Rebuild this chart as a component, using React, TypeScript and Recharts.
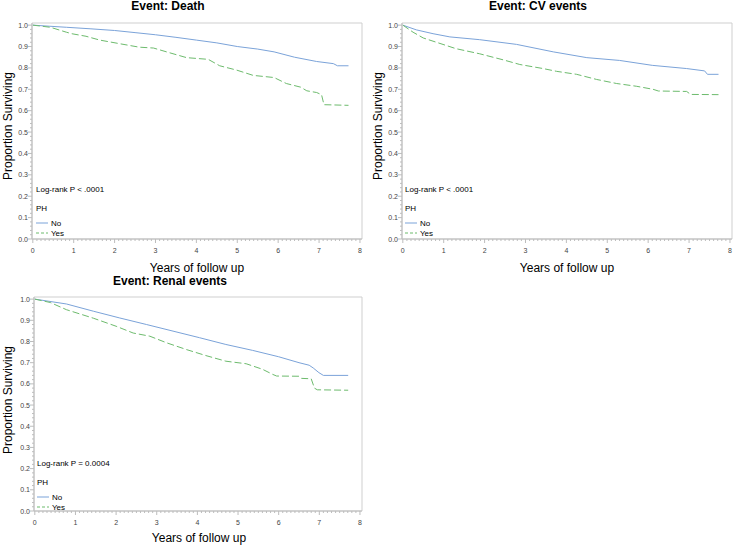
import React from 'react';
import { LineChart, Line, XAxis, YAxis, ReferenceArea } from 'recharts';

// ---------- data ----------
const xMajorTicks = [0, 1, 2, 3, 4, 5, 6, 7, 8];
const yMajorTicks = [0, 0.1, 0.2, 0.3, 0.4, 0.5, 0.6, 0.7, 0.8, 0.9, 1.0];

const deathNoTime = [0, 0.4, 0.82, 1.4, 2.0, 2.5, 3.0, 3.5, 4.0, 4.5, 5.0, 5.5, 5.9, 6.4, 6.94, 7.35, 7.45, 7.72];
const deathNoSurv = [1, 0.995, 0.99, 0.983, 0.975, 0.965, 0.955, 0.943, 0.93, 0.917, 0.9, 0.888, 0.875, 0.85, 0.83, 0.82, 0.81, 0.81];
const deathYesTime = [0, 0.43, 0.82, 0.95, 1.3, 1.64, 2.13, 2.6, 2.95, 3.27, 3.76, 4.29, 4.57, 4.98, 5.39, 5.9, 6.2, 6.55, 6.7, 6.94, 7.06, 7.12, 7.72];
const deathYesSurv = [1, 0.99, 0.967, 0.96, 0.948, 0.93, 0.913, 0.897, 0.893, 0.875, 0.848, 0.84, 0.81, 0.79, 0.765, 0.755, 0.727, 0.71, 0.693, 0.685, 0.675, 0.628, 0.625];

const cvNoTime = [0, 0.33, 0.74, 1.15, 1.88, 2.78, 3.68, 4.5, 5.3, 6.1, 6.94, 7.38, 7.45, 7.72];
const cvNoSurv = [1, 0.978, 0.96, 0.945, 0.932, 0.91, 0.875, 0.848, 0.835, 0.812, 0.797, 0.786, 0.77, 0.77];
const cvYesTime = [0, 0.25, 0.5, 0.82, 1.3, 1.88, 2.45, 2.86, 3.43, 3.76, 4.25, 4.74, 5.23, 5.72, 6.12, 6.25, 6.94, 7.04, 7.72];
const cvYesSurv = [1, 0.967, 0.94, 0.92, 0.89, 0.866, 0.838, 0.816, 0.797, 0.784, 0.77, 0.746, 0.727, 0.714, 0.7, 0.692, 0.69, 0.676, 0.675];

const renalNoTime = [0, 0.78, 1.44, 2.09, 2.75, 3.4, 4.05, 4.7, 5.36, 6.0, 6.5, 6.75, 6.85, 6.99, 7.1, 7.71];
const renalNoSurv = [1, 0.977, 0.943, 0.911, 0.88, 0.849, 0.818, 0.786, 0.758, 0.728, 0.7, 0.688, 0.675, 0.653, 0.64, 0.64];
const renalYesTime = [0, 0.38, 0.78, 1.44, 2.0, 2.42, 2.83, 3.24, 3.73, 4.2, 4.7, 5.2, 5.6, 5.85, 5.95, 6.5, 6.56, 6.8, 6.88, 6.95, 7.71];
const renalYesSurv = [1, 0.984, 0.95, 0.91, 0.872, 0.84, 0.825, 0.794, 0.762, 0.734, 0.707, 0.695, 0.669, 0.645, 0.637, 0.636, 0.626, 0.624, 0.58, 0.572, 0.57];

const panelTitles = ['Event: Death', 'Event: CV events', 'Event: Renal events'];
const pValues = ['Log-rank P < .0001', 'Log-rank P < .0001', 'Log-rank P = 0.0004'];
const groupTitle = 'PH';
const groupNames = ['No', 'Yes'];
const xLabel = 'Years of follow up';
const yLabel = 'Proportion Surviving';

// ---------- styles ----------
const BLUE = '#7ba3d9';
const GREEN = '#6dbb6d';
const FONT = '"Liberation Sans", Arial, sans-serif';
const AXIS = '#bdbdbd';

const xAllTicks: number[] = [];
for (let i = 0; i <= 80; i++) xAllTicks.push(i / 10);
const yAllTicks: number[] = [];
for (let i = 0; i <= 50; i++) yAllTicks.push(i / 50);

const isMajorX = (v: number) => xMajorTicks.some((m) => Math.abs(m - v) < 1e-6);
const isMajorY = (v: number) => yMajorTicks.some((m) => Math.abs(m - v) < 1e-6);

const toPoints = (t: number[], s: number[]) => t.map((v, i) => ({ t: v, s: s[i] }));

const XTick = (props: any) => {
  const { x, y, payload } = props;
  const v = payload.value;
  const major = isMajorX(v);
  return (
    <g>
      <line x1={x} x2={x} y1={y} y2={y + (major ? 4 : 2)} stroke={AXIS} strokeWidth={1} />
      {major && (
        <text x={x} y={y + 14} textAnchor="middle" fontSize={7} fill="#444" fontFamily={FONT}>
          {Math.round(v)}
        </text>
      )}
    </g>
  );
};

const YTick = (props: any) => {
  const { x, y, payload } = props;
  const v = payload.value;
  const major = isMajorY(v);
  return (
    <g>
      <line x1={x} x2={x - (major ? 4 : 2)} y1={y} y2={y} stroke={AXIS} strokeWidth={1} />
      {major && (
        <text x={x - 4} y={y + 2.5} textAnchor="end" fontSize={7} fill="#444" fontFamily={FONT}>
          {v.toFixed(1)}
        </text>
      )}
    </g>
  );
};

type PanelProps = {
  left: number;
  top: number;
  width: number;
  plotH: number;
  no: { t: number; s: number }[];
  yes: { t: number; s: number }[];
};

const Panel = ({ left, top, width, plotH, no, yes }: PanelProps) => (
  <div style={{ position: 'absolute', left, top }}>
    <LineChart
      width={width}
      height={23 + plotH + 36}
      margin={{ top: 23, right: 8, bottom: 6, left: 8 }}
    >
      <XAxis
        type="number"
        dataKey="t"
        domain={[-0.02, 8.05]}
        ticks={xAllTicks}
        interval={0}
        tick={<XTick />}
        tickLine={false}
        tickSize={0}
        tickMargin={0}
        axisLine={{ stroke: AXIS }}
        height={30}
        allowDataOverflow
      />
      <YAxis
        type="number"
        dataKey="s"
        domain={[0, 1.01]}
        ticks={yAllTicks}
        interval={0}
        tick={<YTick />}
        tickLine={false}
        tickSize={0}
        tickMargin={0}
        axisLine={{ stroke: AXIS }}
        width={24}
        allowDataOverflow
      />
      <ReferenceArea x1={-0.02} x2={8.05} y1={0} y2={1.01} fill="none" stroke="#cfcfcf" strokeWidth={1} />
      <Line
        data={no}
        dataKey="s"
        type="linear"
        stroke={BLUE}
        strokeWidth={1}
        dot={false}
        isAnimationActive={false}
      />
      <Line
        data={yes}
        dataKey="s"
        type="linear"
        stroke={GREEN}
        strokeWidth={1}
        strokeDasharray="7 3"
        dot={false}
        isAnimationActive={false}
      />
    </LineChart>
  </div>
);

export default function App() {
  const panels = [
    { left: 0, top: 0, width: 370, plotH: 216, no: toPoints(deathNoTime, deathNoSurv), yes: toPoints(deathYesTime, deathYesSurv) },
    { left: 370, top: 0, width: 370, plotH: 216, no: toPoints(cvNoTime, cvNoSurv), yes: toPoints(cvYesTime, cvYesSurv) },
    { left: 2, top: 274, width: 368, plotH: 214, no: toPoints(renalNoTime, renalNoSurv), yes: toPoints(renalYesTime, renalYesSurv) },
  ];
  const layout = [
    { titleX: 168, titleY: 10, xlX: 197, xlY: 272, ylX: 12, ylY: 126, ax: 36, lr: 192 },
    { titleX: 538, titleY: 10, xlX: 567, xlY: 272, ylX: 382, ylY: 126, ax: 405, lr: 192 },
    { titleX: 170, titleY: 285, xlX: 199, xlY: 542, ylX: 12, ylY: 400, ax: 37, lr: 466 },
  ];
  return (
    <div style={{ position: 'absolute', left: 0, top: 0, width: 733, height: 549, background: '#fff', overflow: 'hidden' }}>
      {panels.map((p, i) => (
        <Panel key={i} {...p} />
      ))}
      <svg width={733} height={549} style={{ position: 'absolute', left: 0, top: 0, pointerEvents: 'none' }}>
        {layout.map((l, i) => (
          <g key={i} fontFamily={FONT}>
            <text x={l.titleX} y={l.titleY} textAnchor="middle" fontSize={12} fontWeight="bold" fill="#000">
              {panelTitles[i]}
            </text>
            <text x={l.xlX} y={l.xlY} textAnchor="middle" fontSize={12} fill="#000">
              {xLabel}
            </text>
            <text
              x={l.ylX}
              y={l.ylY}
              textAnchor="middle"
              fontSize={12}
              fill="#000"
              transform={`rotate(-90 ${l.ylX} ${l.ylY})`}
            >
              {yLabel}
            </text>
            <text x={l.ax} y={l.lr} fontSize={8} fill="#000">
              {pValues[i]}
            </text>
            <text x={l.ax} y={l.lr + 19} fontSize={8} fill="#000">
              {groupTitle}
            </text>
            <line x1={l.ax} x2={l.ax + 12} y1={l.lr + 31} y2={l.lr + 31} stroke={BLUE} strokeWidth={1} />
            <text x={l.ax + 15} y={l.lr + 34} fontSize={8} fill="#000">
              {groupNames[0]}
            </text>
            <line x1={l.ax} x2={l.ax + 12} y1={l.lr + 41} y2={l.lr + 41} stroke={GREEN} strokeWidth={1} strokeDasharray="3 2" />
            <text x={l.ax + 15} y={l.lr + 44} fontSize={8} fill="#000">
              {groupNames[1]}
            </text>
          </g>
        ))}
      </svg>
    </div>
  );
}
